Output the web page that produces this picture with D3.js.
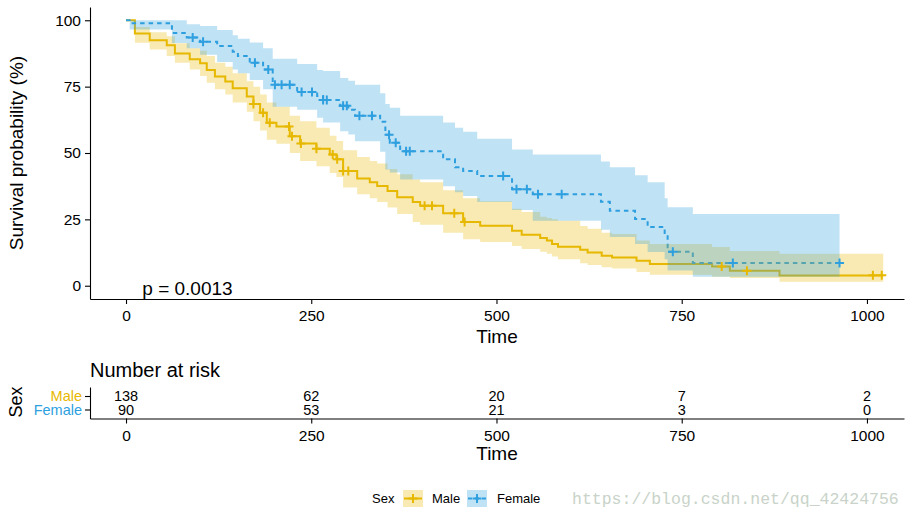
<!DOCTYPE html>
<html>
<head>
<meta charset="utf-8">
<script src="https://cdn.jsdelivr.net/npm/d3@7"></script>
<style>
  body { margin: 0; background: #fff; }
  svg { display: block; font-family: "Liberation Sans", Arial, sans-serif; }
</style>
</head>
<body>
<svg width="912" height="523"></svg>
<script>
// Kaplan-Meier estimates (time, survival %, upper and lower CI)
const maleTime  = [0, 12, 32, 55, 66, 86, 100, 109, 120, 134, 144, 163, 172, 181, 190, 203, 221, 235, 257, 275, 284, 293, 312, 329, 339, 353, 366, 387, 397, 428, 455, 478, 521, 534, 559, 568, 575, 583, 613, 623, 642, 656, 689, 707, 791, 815, 882];
const maleSurv  = [100, 95.0, 92.5, 90.6, 87.5, 85.3, 83.8, 81.3, 78.8, 76.9, 74.4, 71.3, 68.5, 65.2, 61.4, 60.0, 56.3, 53.6, 51.6, 49.4, 47.6, 43.2, 40.4, 39.0, 37.6, 35.7, 33.3, 31.5, 30.1, 27.3, 24.0, 22.6, 20.7, 19.2, 18.0, 17.0, 15.7, 14.7, 13.6, 12.5, 11.3, 10.6, 9.4, 8.2, 7.2, 5.6, 3.9];
const maleUpper = [100, 97.5, 95.5, 94, 91.3, 89.5, 88.5, 86.5, 84, 82.5, 80, 77, 75, 72, 69, 67.4, 64, 62, 59.5, 56.5, 54.5, 51, 48.5, 47, 46, 44, 42, 40, 39, 36, 33, 31.8, 29, 27.8, 26, 25.5, 25, 24.5, 22.5, 21.5, 20, 19.5, 17, 15.7, 14.6, 13.1, 12];
const maleLower = [100, 91.5, 89, 86.5, 84, 81.5, 79, 76.5, 74, 72, 69, 65.5, 62, 58.5, 55, 53.5, 50, 47, 45, 42.5, 41, 37, 34.5, 33, 31.5, 29.5, 27, 24, 23, 20, 17.5, 16.5, 15, 13.8, 12.8, 12, 11, 10, 8.5, 7.8, 7, 6.5, 5.2, 4.1, 3.4, 2.9, 1.5];
const maleEnd = 1022;

const femaleTime  = [0, 5, 62, 82, 100, 123, 144, 151, 167, 185, 198, 231, 258, 266, 289, 300, 309, 343, 350, 356, 370, 428, 444, 455, 474, 521, 549, 641, 653, 687, 704, 727, 731, 765];
const femaleSurv  = [100, 98.9, 95.2, 93.5, 91.9, 90.3, 88.1, 86.5, 84.0, 81.5, 75.7, 73.0, 71.5, 70.0, 67.8, 66.3, 64.0, 61.8, 56.9, 53.9, 50.7, 47.6, 44.6, 43.2, 41.3, 36.3, 34.5, 31.6, 28.2, 25.1, 22.1, 19.1, 12.8, 8.6];
const femaleUpper = [100, 100, 100, 98.5, 97.8, 96.3, 94.4, 93, 91.6, 89.5, 85.5, 83.5, 81.3, 80.9, 78.3, 77.2, 75.7, 72.5, 68.5, 67, 64, 61.5, 59.5, 58, 55.4, 51.3, 49.4, 46.8, 44.6, 41.6, 39, 33, 29.6, 27];
const femaleLower = [100, 96.5, 91.4, 89.5, 87, 84.3, 81.5, 80, 77.5, 74, 67.4, 66.3, 63.3, 61.5, 58.2, 57, 54.4, 50.5, 43.8, 42.7, 40, 37.5, 35.2, 33.8, 31.5, 28.5, 24.5, 21.1, 18.4, 15.7, 12.7, 10, 5.7, 3.4];
const femaleEnd = 963;

const maleCensor   = [172, 185, 194, 220, 224, 236, 257, 279, 285, 293, 300, 403, 413, 443, 457, 804, 838, 1008, 1020];
const femaleCensor = [90, 104, 174, 192, 201, 210, 221, 237, 251, 266, 271, 293, 298, 315, 332, 355, 364, 378, 383, 509, 527, 541, 556, 588, 738, 819, 963];

const riskTimes   = [0, 250, 500, 750, 1000];
const maleRisk    = [138, 62, 20, 7, 2];
const femaleRisk  = [90, 53, 21, 3, 0];

const timeTicks = [0, 250, 500, 750, 1000];
const survTicks = [0, 25, 50, 75, 100];
const groups = ["Male", "Female"];
const pText = "p = 0.0013";

const color = d3.scaleOrdinal().domain(groups).range(["#E7B800", "#2E9FDF"]);

const svg = d3.select("svg");

// shared x scale (plot and risk table)
const x = d3.scaleLinear().domain([-48.6, 1050]).range([90, 904]);
const y = d3.scaleLinear().domain([-5, 105]).range([299, 7]);

function makeRows(time, surv, up, lo, end) {
    const rows = time.map((t, i) => ({t: t, s: surv[i], u: up[i], l: lo[i]}));
    const last = rows[rows.length - 1];
    rows.push({t: end, s: last.s, u: last.u, l: last.l});
    return rows;
}
const maleRows = makeRows(maleTime, maleSurv, maleUpper, maleLower, maleEnd);
const femaleRows = makeRows(femaleTime, femaleSurv, femaleUpper, femaleLower, femaleEnd);

function survAt(rows, t) {
    let s = rows[0].s;
    rows.forEach(r => { if (r.t <= t) s = r.s; });
    return s;
}

const line = d3.line().curve(d3.curveStepAfter).x(d => x(d.t)).y(d => y(d.s));
const band = d3.area().curve(d3.curveStepAfter).x(d => x(d.t)).y0(d => y(d.l)).y1(d => y(d.u));

const g1 = svg.append("g");

// curves
g1.append("path").attr("d", line(maleRows))
    .attr("fill", "none").attr("stroke", color("Male")).attr("stroke-width", 2);
g1.append("path").attr("d", line(femaleRows))
    .attr("fill", "none").attr("stroke", color("Female")).attr("stroke-width", 2)
    .attr("stroke-dasharray", "4.5,4");

// confidence bands
g1.append("path").attr("d", band(maleRows)).attr("fill", color("Male")).attr("fill-opacity", 0.3);
g1.append("path").attr("d", band(femaleRows)).attr("fill", color("Female")).attr("fill-opacity", 0.3);

// censor marks
const plus = "M-4.5,0H4.5M0,-4.5V4.5";
g1.selectAll(".cm").data(maleCensor).enter().append("path")
    .attr("d", plus)
    .attr("transform", d => `translate(${x(d)},${y(survAt(maleRows, d))})`)
    .attr("stroke", color("Male")).attr("stroke-width", 2);
g1.selectAll(".cf").data(femaleCensor).enter().append("path")
    .attr("d", plus)
    .attr("transform", d => `translate(${x(d)},${y(survAt(femaleRows, d))})`)
    .attr("stroke", color("Female")).attr("stroke-width", 2);

// axes
const yAxis = g1.append("g").attr("transform", "translate(90,0)")
    .call(d3.axisLeft(y).tickValues(survTicks).tickSize(5).tickSizeOuter(0).tickPadding(4));
const xAxis = g1.append("g").attr("transform", "translate(0,299)")
    .call(d3.axisBottom(x).tickValues(timeTicks).tickFormat(d3.format("d"))
        .tickSize(5).tickSizeOuter(0).tickPadding(6));
[yAxis, xAxis].forEach(a => {
    a.selectAll("path, line").attr("stroke", "#000").attr("stroke-width", 1.1);
    a.selectAll("text").attr("font-size", "15.5px").attr("fill", "#000")
        .attr("font-family", "Liberation Sans, Arial, sans-serif");
});

g1.append("text")
    .attr("transform", "translate(23,153) rotate(-90)")
    .attr("text-anchor", "middle")
    .attr("font-size", "19px")
    .text("Survival probability (%)");

g1.append("text")
    .attr("x", 497).attr("y", 343)
    .attr("text-anchor", "middle")
    .attr("font-size", "19px")
    .text("Time");

g1.append("text")
    .attr("x", x(22)).attr("y", 295)
    .attr("font-size", "19px")
    .text(pText);

// risk table
const g2 = svg.append("g");
const yRisk = d3.scalePoint().domain(groups).range([387, 418.5]).padding(0.667);

g2.append("text")
    .attr("x", 90).attr("y", 377)
    .attr("font-size", "20px")
    .text("Number at risk");

const riskData = [];
riskTimes.forEach((t, i) => {
    riskData.push({g: "Male", t: t, n: maleRisk[i]});
    riskData.push({g: "Female", t: t, n: femaleRisk[i]});
});
g2.selectAll(".risk").data(riskData).enter().append("text")
    .attr("x", d => x(d.t))
    .attr("y", d => yRisk(d.g))
    .attr("dy", "0.36em")
    .attr("text-anchor", "middle")
    .attr("font-size", "14.5px")
    .text(d => d.n);

const ryAxis = g2.append("g").attr("transform", "translate(90,0)")
    .call(d3.axisLeft(yRisk).tickSize(5).tickSizeOuter(0).tickPadding(3));
ryAxis.selectAll("text")
    .attr("font-size", "14.5px")
    .attr("fill", d => color(d));
const rxAxis = g2.append("g").attr("transform", "translate(0,418.5)")
    .call(d3.axisBottom(x).tickValues(timeTicks).tickFormat(d3.format("d"))
        .tickSize(5).tickSizeOuter(0).tickPadding(6));
rxAxis.selectAll("text").attr("font-size", "15.5px").attr("fill", "#000");
[ryAxis, rxAxis].forEach(a => a.selectAll("path, line").attr("stroke", "#000").attr("stroke-width", 1.1));

g2.append("text")
    .attr("transform", "translate(22,402) rotate(-90)")
    .attr("text-anchor", "middle")
    .attr("font-size", "18px")
    .text("Sex");

g2.append("text")
    .attr("x", 497).attr("y", 460)
    .attr("text-anchor", "middle")
    .attr("font-size", "19px")
    .text("Time");

// legend
const lg = svg.append("g");
lg.append("text").attr("x", 372).attr("y", 503).attr("font-size", "13px").text("Sex");
const keys = [{g: "Male", x: 403, tx: 432}, {g: "Female", x: 467, tx: 497}];
keys.forEach(k => {
    lg.append("rect").attr("x", k.x).attr("y", 490).attr("width", 20).attr("height", 17)
        .attr("fill", color(k.g)).attr("fill-opacity", 0.3);
    lg.append("line").attr("x1", k.x + 1).attr("x2", k.x + 19).attr("y1", 498.5).attr("y2", 498.5)
        .attr("stroke", color(k.g)).attr("stroke-width", 2)
        .attr("stroke-dasharray", k.g === "Female" ? "4,3" : null);
    lg.append("path").attr("d", plus).attr("transform", `translate(${k.x + 10},498.5)`)
        .attr("stroke", color(k.g)).attr("stroke-width", 2);
    lg.append("text").attr("x", k.tx).attr("y", 503).attr("font-size", "13px").text(k.g);
});

// watermark
svg.append("text")
    .attr("x", 572).attr("y", 504)
    .attr("font-family", "Liberation Mono, DejaVu Sans Mono, monospace")
    .attr("font-size", "16.5px")
    .attr("fill", "#c9d3c9")
    .text("https://blog.csdn.net/qq_42424756");
</script>
</body>
</html>
